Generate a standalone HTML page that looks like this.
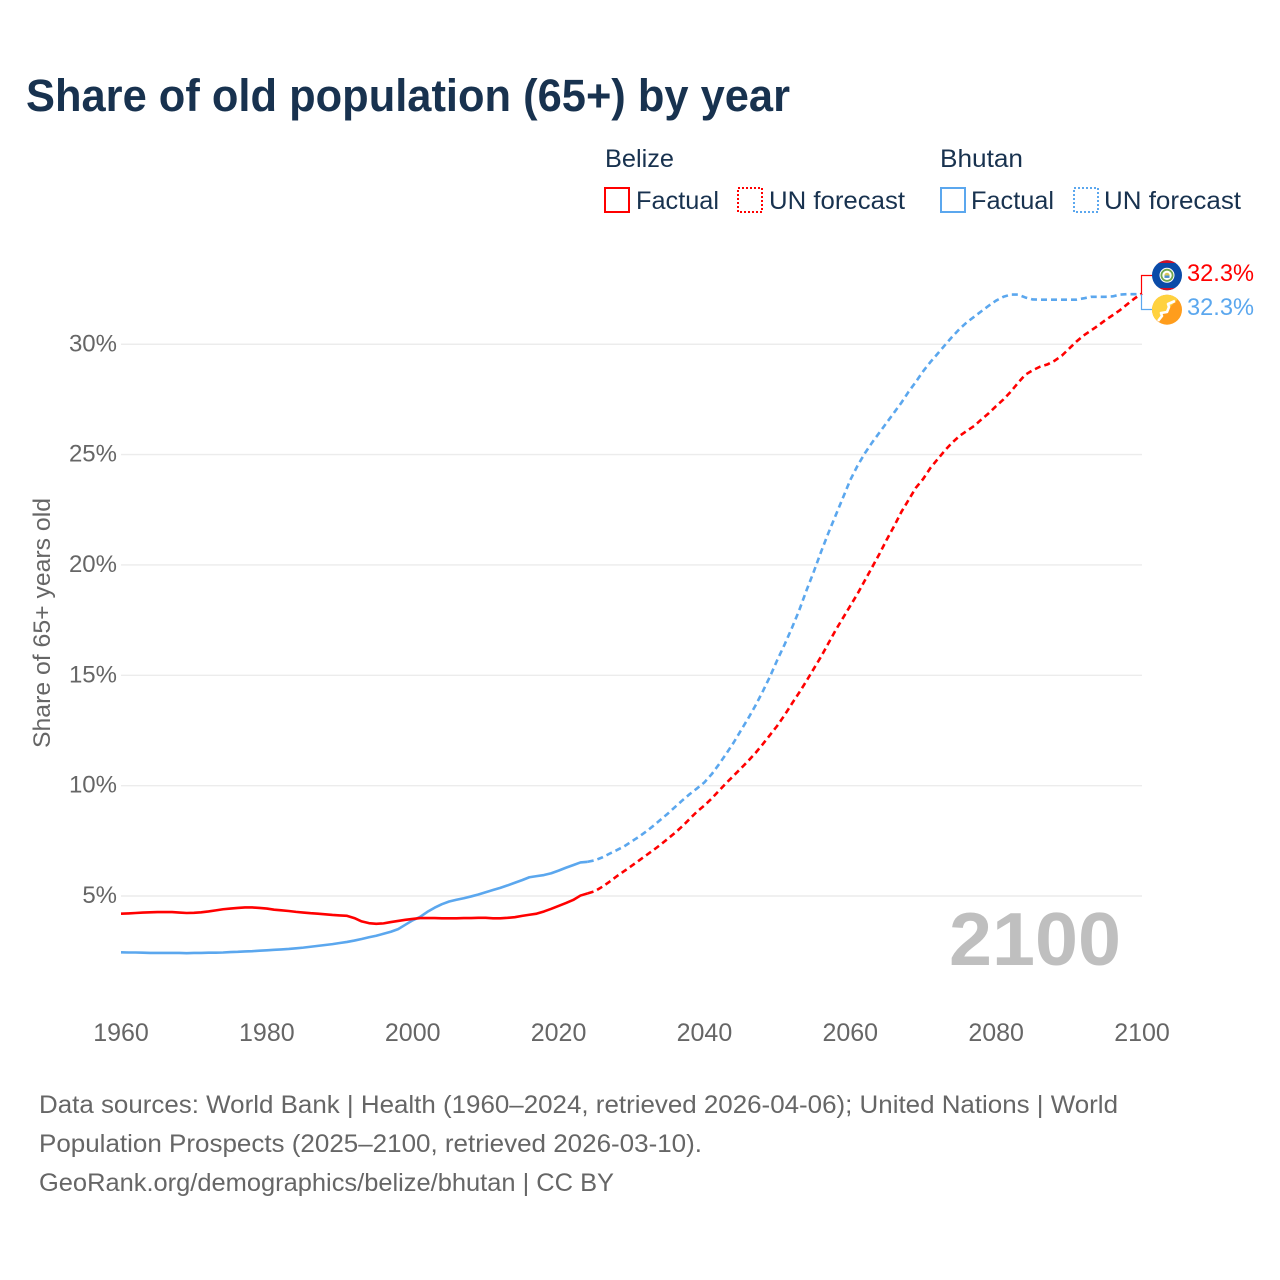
<!DOCTYPE html>
<html lang="en">
<head>
<meta charset="utf-8">
<title>Share of old population (65+) by year</title>
<style>
html,body{margin:0;padding:0;background:#fff;}
svg{display:block;font-family:"Liberation Sans",sans-serif;}
</style>
</head>
<body>
<svg id="chart" xmlns="http://www.w3.org/2000/svg" width="1280" height="1280" viewBox="0 0 1280 1280">
  <defs>
    <clipPath id="flag-a"><circle cx="1167" cy="275.3" r="15"/></clipPath>
    <clipPath id="flag-b"><circle cx="1167" cy="309.7" r="15"/></clipPath>
  </defs>
  <rect x="0" y="0" width="1280" height="1280" fill="#fff"/>
  <text x="26" y="111" font-size="45" font-weight="700" fill="#18324f" textLength="764" lengthAdjust="spacingAndGlyphs">Share of old population (65+) by year</text>

  <g font-size="25" fill="#18324f">
    <text x="605" y="167" textLength="69" lengthAdjust="spacingAndGlyphs">Belize</text>
    <rect x="605" y="188" width="24" height="24" fill="none" stroke="#ff0000" stroke-width="2"/>
    <text x="636" y="209" textLength="83" lengthAdjust="spacingAndGlyphs">Factual</text>
    <rect x="738" y="188" width="24" height="24" fill="none" stroke="#ff0000" stroke-width="2" stroke-dasharray="2 2"/>
    <text x="769" y="209" textLength="136" lengthAdjust="spacingAndGlyphs">UN forecast</text>
    <text x="940" y="167" textLength="83" lengthAdjust="spacingAndGlyphs">Bhutan</text>
    <rect x="941" y="188" width="24" height="24" fill="none" stroke="#5ba7ee" stroke-width="2"/>
    <text x="971" y="209" textLength="83" lengthAdjust="spacingAndGlyphs">Factual</text>
    <rect x="1074" y="188" width="24" height="24" fill="none" stroke="#5ba7ee" stroke-width="2" stroke-dasharray="2 2"/>
    <text x="1104" y="209" textLength="137" lengthAdjust="spacingAndGlyphs">UN forecast</text>
  </g>

  <g id="grid"></g>
  <g id="yticks" font-size="24" fill="#666" text-anchor="end"></g>
  <g id="xticks" font-size="25" fill="#666" text-anchor="middle"></g>
  <text transform="translate(50,623) rotate(-90)" font-size="24" fill="#666" text-anchor="middle" textLength="250" lengthAdjust="spacingAndGlyphs">Share of 65+ years old</text>
  <text x="949" y="965" font-size="75" font-weight="700" fill="#bfbfbf" textLength="172" lengthAdjust="spacingAndGlyphs">2100</text>

  <g id="series"></g>

  <g>
    <path id="connector-belize" fill="none" stroke="#ff0000" stroke-width="1.2" style="stroke:#ff0000"/>
    <path id="connector-bhutan" fill="none" stroke="#5ba7ee" stroke-width="1.2" style="stroke:#5ba7ee"/>
    <g clip-path="url(#flag-a)">
      <rect x="1152" y="260" width="30" height="31" fill="#0a4ba8"/>
      <rect x="1152" y="260" width="30" height="3" fill="#ce1126"/>
      <rect x="1152" y="288" width="30" height="3" fill="#ce1126"/>
      <circle cx="1167" cy="275.3" r="7.5" fill="#fff"/>
      <circle cx="1167" cy="275.3" r="5.6" fill="none" stroke="#6fa84f" stroke-width="1.8"/>
      <circle cx="1167" cy="275.3" r="2.6" fill="#d9c65a"/>
      <rect x="1164.5" y="275.5" width="5" height="2.4" fill="#4a8fd0"/>
    </g>
    <g clip-path="url(#flag-b)">
      <rect x="1152" y="294" width="31" height="31" fill="#ff9d1c"/>
      <path d="M1152 325 L1152 294 L1183 294 Z" fill="#ffd23f"/>
      <path d="M1158 321 L1162 316 L1161 313 L1167 312 L1169 307 L1168 304 L1175 301" fill="none" stroke="#fff" stroke-width="2.6" stroke-linejoin="round"/>
    </g>
    <text x="1187" y="281" font-size="24.5" fill="#ff0000" textLength="67" lengthAdjust="spacingAndGlyphs">32.3%</text>
    <text x="1187" y="315" font-size="24.5" fill="#5ba7ee" textLength="67" lengthAdjust="spacingAndGlyphs">32.3%</text>
  </g>

  <g font-size="25" fill="#666">
    <text x="39" y="1113" textLength="1079" lengthAdjust="spacingAndGlyphs">Data sources: World Bank | Health (1960–2024, retrieved 2026-04-06); United Nations | World</text>
    <text x="39" y="1152" textLength="663" lengthAdjust="spacingAndGlyphs">Population Prospects (2025–2100, retrieved 2026-03-10).</text>
    <text x="39" y="1191" textLength="575" lengthAdjust="spacingAndGlyphs">GeoRank.org/demographics/belize/bhutan | CC BY</text>
  </g>
</svg>
<script>
const yTickValues = [5, 10, 15, 20, 25, 30];
const xTickValues = [1960, 1980, 2000, 2020, 2040, 2060, 2080, 2100];
const factualStartYear = 1960;
const forecastStartYear = 2024;

const belizeFactual = [
  4.20,4.21,4.23,4.25,4.26,4.27,4.27,4.27,4.25,4.23,
  4.24,4.26,4.30,4.35,4.40,4.43,4.46,4.48,4.48,4.46,
  4.43,4.38,4.35,4.32,4.28,4.25,4.22,4.20,4.17,4.14,
  4.12,4.10,4.00,3.85,3.77,3.74,3.76,3.82,3.87,3.92,
  3.96,4.00,4.00,4.00,3.99,3.99,3.99,4.00,4.00,4.01,
  4.01,3.99,3.99,4.01,4.04,4.10,4.15,4.20,4.30,4.42,
  4.55,4.68,4.82,5.02,5.12
];
const bhutanFactual = [
  2.45,2.44,2.44,2.43,2.42,2.42,2.42,2.42,2.42,2.41,
  2.42,2.42,2.43,2.43,2.44,2.46,2.47,2.49,2.50,2.52,
  2.54,2.56,2.58,2.60,2.63,2.66,2.70,2.74,2.78,2.82,
  2.87,2.92,2.98,3.05,3.13,3.20,3.29,3.38,3.50,3.70,
  3.90,4.05,4.28,4.47,4.63,4.75,4.83,4.90,4.98,5.07,
  5.17,5.27,5.37,5.48,5.60,5.72,5.85,5.90,5.95,6.03,
  6.15,6.28,6.40,6.52,6.55
];
const belizeForecast = [
  5.12,5.22,5.42,5.65,5.90,6.13,6.36,6.60,6.84,7.08,7.33,
  7.60,7.87,8.17,8.50,8.83,9.10,9.42,9.77,10.12,10.45,
  10.78,11.12,11.48,11.88,12.30,12.72,13.20,13.72,14.22,14.75,
  15.30,15.85,16.45,17.05,17.60,18.15,18.70,19.30,19.90,20.50,
  21.15,21.75,22.40,22.95,23.50,23.90,24.40,24.80,25.20,25.55,
  25.85,26.08,26.30,26.60,26.88,27.20,27.50,27.85,28.25,28.62,
  28.82,28.98,29.08,29.25,29.48,29.80,30.12,30.40,30.62,30.85,
  31.10,31.32,31.55,31.82,32.08,32.30
];
const bhutanForecast = [
  6.55,6.62,6.75,6.92,7.08,7.25,7.47,7.68,7.92,8.18,8.46,
  8.74,9.04,9.34,9.62,9.88,10.15,10.52,10.97,11.45,11.95,
  12.50,13.05,13.63,14.27,14.95,15.70,16.40,17.15,17.95,18.85,
  19.70,20.60,21.45,22.25,23.05,23.85,24.50,25.06,25.55,26.00,
  26.45,26.90,27.35,27.85,28.30,28.78,29.20,29.58,29.97,30.35,
  30.70,31.00,31.25,31.50,31.75,31.98,32.15,32.25,32.25,32.12,
  32.03,32.02,32.02,32.02,32.02,32.02,32.02,32.08,32.15,32.15,
  32.15,32.17,32.25,32.27,32.27,32.27
];

const NS = 'http://www.w3.org/2000/svg';
const xScale = (year) => 121 + (year - 1960) * (1021 / 140);
const yScale = (value) => 896 - (value - 5) * 22.07;

const gridGroup = document.getElementById('grid');
const yTickGroup = document.getElementById('yticks');
const xTickGroup = document.getElementById('xticks');
const seriesGroup = document.getElementById('series');

yTickValues.forEach((tick) => {
  const line = document.createElementNS(NS, 'line');
  
  
  line.setAttribute('x1', xScale(1960));
  line.setAttribute('x2', xScale(2100));
  line.setAttribute('y1', yScale(tick));
  line.setAttribute('y2', yScale(tick));
  line.setAttribute('stroke', '#ececec');
  line.setAttribute('stroke-width', '1.4');
  gridGroup.appendChild(line);

  const label = document.createElementNS(NS, 'text');
  
  
  label.setAttribute('x', 117);
  label.setAttribute('y', yScale(tick) + 7);
  label.textContent = tick + '%';
  yTickGroup.appendChild(label);
});

xTickValues.forEach((tick) => {
  const label = document.createElementNS(NS, 'text');
  
  
  label.setAttribute('x', xScale(tick));
  label.setAttribute('y', 1041);
  label.textContent = tick;
  xTickGroup.appendChild(label);
});

function pointsFor(values, startYear) {
  return values.map((v, i) => xScale(startYear + i).toFixed(2) + ',' + yScale(v).toFixed(2)).join(' ');
}

function drawLine(name, values, startYear, colour, dashed) {
  const line = document.createElementNS(NS, 'polyline');
  
  
  line.setAttribute('points', pointsFor(values, startYear));
  line.setAttribute('fill', 'none');
  line.setAttribute('stroke', colour);
  line.setAttribute('stroke-width', '2.6');
  line.setAttribute('stroke-linejoin', 'round');
  if (dashed) line.setAttribute('stroke-dasharray', '6 4');
  seriesGroup.appendChild(line);
}

drawLine('line-bhutan-forecast', bhutanForecast, forecastStartYear, '#5ba7ee', true);
drawLine('line-belize-forecast', belizeForecast, forecastStartYear, '#ff0000', true);
drawLine('line-bhutan-factual', bhutanFactual, factualStartYear, '#5ba7ee', false);
drawLine('line-belize-factual', belizeFactual, factualStartYear, '#ff0000', false);

const lastBelize = belizeForecast[belizeForecast.length - 1];
const lastBhutan = bhutanForecast[bhutanForecast.length - 1];
document.getElementById('connector-belize').setAttribute('d', 'M1141.5 ' + yScale(lastBelize).toFixed(1) + ' V275.5 H1153');
document.getElementById('connector-bhutan').setAttribute('d', 'M1141.5 ' + yScale(lastBhutan).toFixed(1) + ' V309.5 H1153');
</script>
</body>
</html>
